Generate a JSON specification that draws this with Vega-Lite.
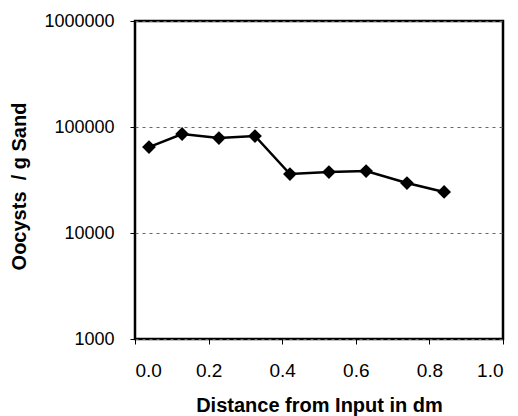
{
  "$schema": "https://vega.github.io/schema/vega-lite/v6.json",
  "autosize": "none",
  "width": 368,
  "height": 318,
  "padding": {"left": 135, "top": 21, "right": 15, "bottom": 77},
  "background": "white",
  "config": {
    "font": "Liberation Sans",
    "view": {"stroke": "black", "strokeWidth": 2.5},
    "axis": {
      "labelFont": "Liberation Sans",
      "labelColor": "black",
      "titleFont": "Liberation Sans",
      "titleFontSize": 20,
      "titleFontWeight": "bold",
      "titleColor": "black",
      "domain": false,
      "tickColor": "black",
      "tickSize": 5
    }
  },
  "data": {
    "values": [
      {"distance": 0.038, "oocysts": 64700},
      {"distance": 0.128, "oocysts": 85900},
      {"distance": 0.228, "oocysts": 78700},
      {"distance": 0.326, "oocysts": 82200},
      {"distance": 0.421, "oocysts": 36000},
      {"distance": 0.527, "oocysts": 37600},
      {"distance": 0.628, "oocysts": 38400},
      {"distance": 0.739, "oocysts": 29600},
      {"distance": 0.840, "oocysts": 24400}
    ]
  },
  "encoding": {
    "x": {
      "field": "distance",
      "type": "quantitative",
      "scale": {"domain": [0, 1], "nice": false, "zero": false},
      "axis": {
        "title": "Distance from Input in dm",
        "values": [0, 0.2, 0.4, 0.6, 0.8, 1.0],
        "format": ".1f",
        "grid": false,
        "labelFontSize": 19,
        "labelPadding": 17,
        "titlePadding": 15
      }
    },
    "y": {
      "field": "oocysts",
      "type": "quantitative",
      "scale": {"type": "log", "domain": [1000, 1000000], "nice": false},
      "axis": {
        "title": "Oocysts \u00a0/ g Sand",
        "values": [1000, 10000, 100000, 1000000],
        "format": "d",
        "labelFontSize": 18,
        "labelPadding": 16,
        "titlePadding": 14,
        "titleY": 165,
        "grid": true,
        "gridColor": "#666666",
        "gridDash": [3, 4],
        "gridWidth": 1
      }
    }
  },
  "layer": [
    {"mark": {"type": "line", "color": "black", "strokeWidth": 2.5}},
    {"mark": {"type": "point", "shape": "diamond", "filled": true, "color": "black", "opacity": 1, "size": 190}}
  ]
}
